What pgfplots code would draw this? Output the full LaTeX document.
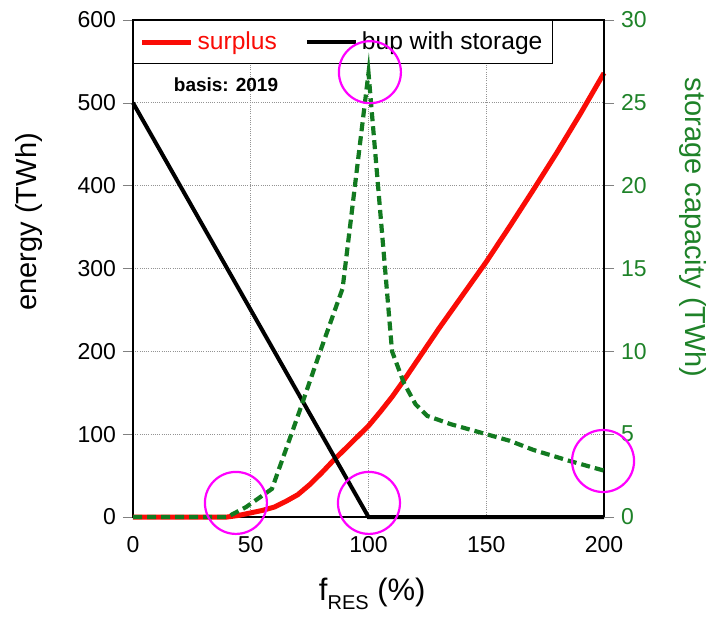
\documentclass[border=0pt]{standalone}
\usepackage{fontspec}
\setmainfont{Liberation Sans}
\usepackage{pgfplots}
\pgfplotsset{compat=1.18}
\definecolor{surplusred}{RGB}{250,12,6}
\definecolor{storegreen}{RGB}{18,122,32}
\definecolor{labelgreen}{RGB}{30,130,40}
\definecolor{markmagenta}{RGB}{255,0,255}

\begin{document}
\begin{tikzpicture}
\pgfplotsset{
  common/.style={
    scale only axis, width=235.5pt, height=248.5pt,
    at={(0pt,0pt)}, anchor=south west,
    xmin=0, xmax=200,
    tick align=outside, major tick length=5pt,
    /pgf/number format/assume math mode=true,
    tick label style={font=\fontsize{11.5}{13}\selectfont},
    axis line style={line width=0.7pt},
    clip=false,
  }
}
% energy axis (left)
\begin{axis}[common,
  ymin=0, ymax=600, ytick={0,100,...,600}, xtick={0,50,...,200},
  ytick pos=left, xtick pos=bottom, xtick style={draw=none},
  xticklabel style={yshift=-1pt},
  grid=major, grid style={gray!85, line width=0.45pt, dash pattern=on 0.5pt off 0.6pt},
  xlabel={{\fontsize{15.5}{18}\selectfont f\raisebox{-4.5pt}{\fontsize{10}{12}\selectfont RES} (\%)}},
  xlabel style={at={(axis description cs:0.508,-0.167)}, anchor=base},
  ylabel={energy (TWh)},
  ylabel style={at={(axis description cs:-0.221,0.594)}, anchor=center, font=\fontsize{14.5}{17}\selectfont},
  legend columns=2,
  legend style={at={(0,1)}, anchor=north west, draw=black, line width=0.6pt, fill=white,
    font=\fontsize{12.3}{14}\selectfont, inner xsep=3pt, inner ysep=3.6pt,
    /tikz/every even column/.append style={column sep=12pt}},
  legend image code/.code={\draw[#1] (0pt,0pt) -- (24.5pt,0pt);},
]
\addplot[surplusred, line width=2.5pt] coordinates {
  (0,0) (40,0) (45,2) (50,5) (55,8) (60,12) (65,19) (70,27) (75,39) (80,53)
  (85,68) (90,82) (95,96) (100,110) (105,127) (110,145) (115,165) (120,186)
  (125,207) (130,228) (135,248) (140,268) (150,308) (160,351) (170,395)
  (180,440) (190,487) (200,536)
};
\addlegendentry{\textcolor{surplusred}{surplus}}
\addplot[black, line width=2pt] coordinates {(0,500) (100,0) (200,0)};
\addlegendentry{bup with storage}
\node[font=\bfseries\fontsize{9.5}{11}\selectfont] at (axis cs:39.5,522) {basis: 2019};
\end{axis}
% storage axis (right)
\begin{axis}[common,
  axis x line=none, axis y line*=right,
  ymin=0, ymax=30, ytick={0,5,...,30},
  yticklabel style={text=labelgreen},
  ylabel={storage capacity (TWh)},
  ylabel style={at={(axis description cs:1.19,0.582)}, anchor=center, rotate=180,
    text=labelgreen, font=\fontsize{14.5}{17}\selectfont},
]
\addplot[storegreen, line width=2.1pt, dash pattern=on 4.5pt off 2.5pt] coordinates {
  (0,0) (40,0) (42,0.15) (48,0.6) (54,1.2) (59,1.7) (64,3.7) (70,6.1) (80,10.2)
  (89,13.8) (100,26.8) (110,10.0) (115,8.1) (120,6.8) (125,6.1) (135,5.6)
  (150,5.0) (160,4.6) (170,4.05) (185,3.4) (200,2.8)
};
\addplot[only marks, mark=o, mark size=15.5pt, markmagenta,
  mark options={line width=1.1pt}] coordinates {
  (43.7,0.85) (100.2,0.85) (100.6,26.85) (199.6,3.38)
};
\end{axis}
\pgfresetboundingbox
\path[use as bounding box] (-66.5pt,-49.5pt) rectangle (289pt,258.5pt);
\end{tikzpicture}
\end{document}
